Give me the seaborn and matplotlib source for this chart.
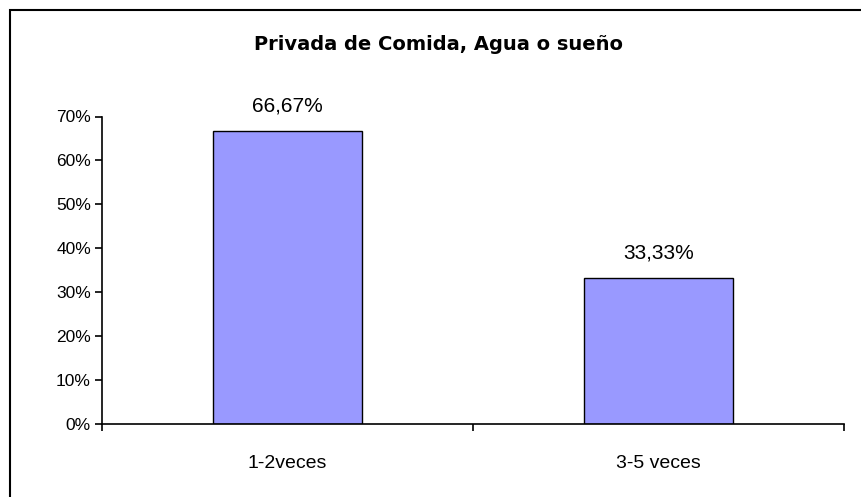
import matplotlib
matplotlib.use("Agg")
import matplotlib.pyplot as plt
import seaborn as sns
import pandas as pd
from matplotlib.patches import Rectangle
from matplotlib.ticker import FuncFormatter, FixedLocator

categories = ["1-2veces", "3-5 veces"]
values = [0.6667, 0.3333]
value_labels = ["66,67%", "33,33%"]
title = "Privada de Comida, Agua o sueño"

sns.set_theme(style="white")
plt.rcParams['font.family'] = ['Liberation Sans', 'DejaVu Sans']
plt.rcParams['text.color'] = 'black'
plt.rcParams['xtick.color'] = 'black'
plt.rcParams['ytick.color'] = 'black'

fig = plt.figure(figsize=(8.61, 4.97), dpi=100)
ax = fig.add_axes([102/861, 1-424/497, (844-102)/861, (424-116.5)/497])

df = pd.DataFrame({"cat": categories, "val": values})
sns.barplot(data=df, x="cat", y="val", color="#9999FF", saturation=1,
            edgecolor="black", linewidth=1, width=0.4, ax=ax)

ax.set_xlim(-0.5, 1.5)
ax.set_ylim(0, 0.7)
ax.set_yticks([i/10 for i in range(8)])
ax.yaxis.set_major_formatter(FuncFormatter(lambda v, p: f"{v*100:.0f}%"))
ax.set_xlabel("")
ax.set_ylabel("")
ax.xaxis.set_major_locator(FixedLocator([0, 1]))
ax.xaxis.set_minor_locator(FixedLocator([-0.5, 0.5, 1.5]))
ax.tick_params(axis='x', which='major', bottom=True, length=0, pad=22, labelsize=14, labelcolor='black')
ax.tick_params(axis='x', which='minor', bottom=True, length=5, width=1.2, color='black', direction='out')
ax.tick_params(axis='y', left=True, length=5, width=1.2, color='black', direction='out',
               labelsize=12.5, pad=3, labelcolor='black')
for s in ["top", "right"]:
    ax.spines[s].set_visible(False)
for s in ["left", "bottom"]:
    ax.spines[s].set_color("black")
    ax.spines[s].set_linewidth(1.2)

for i, (v, lab) in enumerate(zip(values, value_labels)):
    ax.annotate(lab, xy=(i, v), xytext=(0, 11), textcoords="offset points",
                ha="center", va="bottom", fontsize=15, color="black")

fig.text(439/861, 1-45/497, title, ha="center", va="center", fontsize=14,
         fontweight="bold", family=["DejaVu Sans"], color="black")

fig.patches.append(Rectangle((9.5/861, -0.1), 1.2, 1.1 - 10/497, transform=fig.transFigure,
                             fill=False, edgecolor="black", linewidth=1.5))

fig.savefig("out.png", dpi=100, facecolor="white")
